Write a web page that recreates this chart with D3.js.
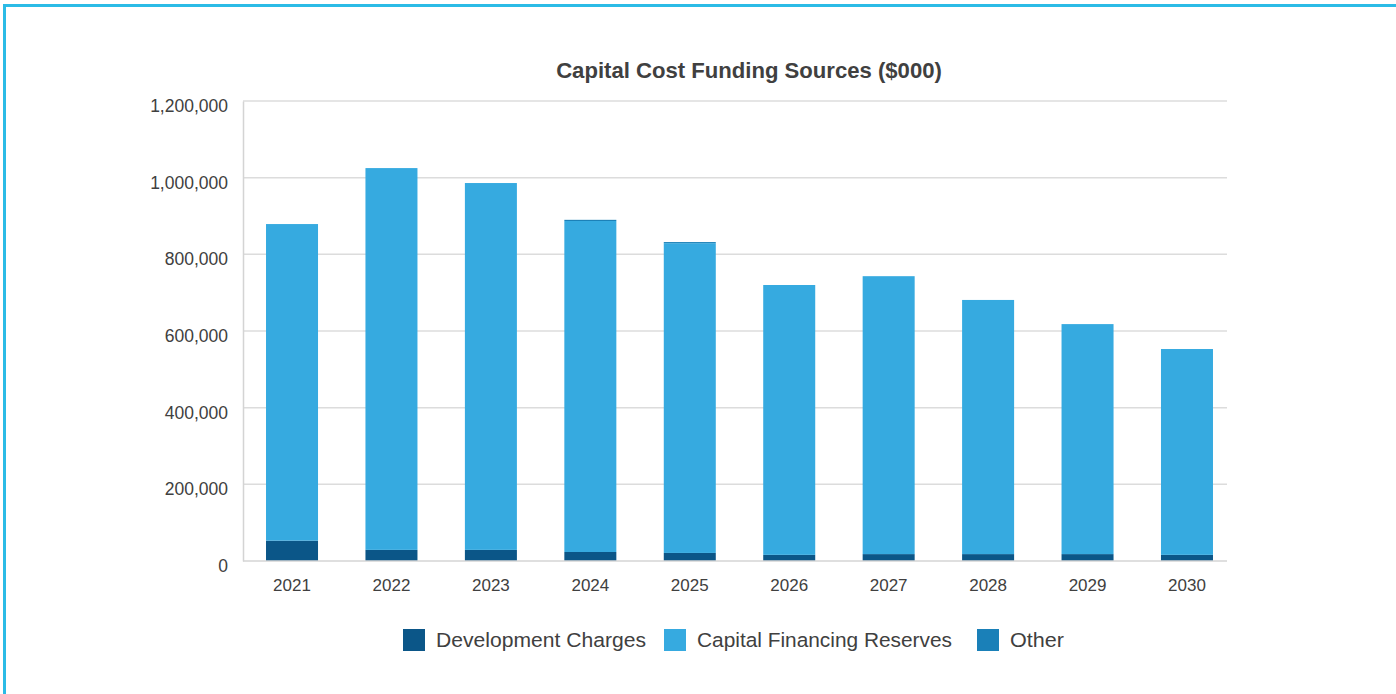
<!DOCTYPE html>
<html>
<head>
<meta charset="utf-8">
<script src="https://cdn.jsdelivr.net/npm/d3@7"></script>
<style>
  html, body { margin: 0; padding: 0; background: #fff; }
  svg { display: block; }
  text { font-family: "Liberation Sans", Arial, sans-serif; fill: #404040; }
</style>
</head>
<body>
<svg id="chart" width="1396" height="694"></svg>
<script>
// Capital cost funding sources, in thousands of dollars
const years = ["2021", "2022", "2023", "2024", "2025", "2026", "2027", "2028", "2029", "2030"];
const developmentCharges = [53000, 29000, 29000, 23500, 21000, 16000, 18000, 18000, 18000, 16000];
const capitalFinancingReserves = [826000, 996000, 957000, 863500, 808000, 704000, 725000, 663000, 600000, 537000];
const other = [0, 0, 0, 3000, 3000, 0, 0, 0, 0, 0];
const yTicks = [0, 200000, 400000, 600000, 800000, 1000000, 1200000];

const seriesNames = ["Development Charges", "Capital Financing Reserves", "Other"];
const seriesColors = ["#0b5688", "#36aae0", "#1a80b8"];

const rows = years.map((y, i) => ({
  year: y,
  "Development Charges": developmentCharges[i],
  "Capital Financing Reserves": capitalFinancingReserves[i],
  "Other": other[i]
}));

const svg = d3.select("#chart");

// Frame accent along the top and left edges
svg.append("rect").attr("x", 3).attr("y", 4).attr("width", 1396).attr("height", 3).attr("fill", "#2bbbe6");
svg.append("rect").attr("x", 3).attr("y", 4).attr("width", 3).attr("height", 694).attr("fill", "#2bbbe6");

const plot = { left: 243, right: 1227, top: 101, bottom: 561 };

const x = d3.scaleBand().domain(years).range([242.3, 1236.7]).paddingInner(0.477).paddingOuter(0.2385);
const y = d3.scaleLinear().domain([0, 1200000]).range([plot.bottom, plot.top]);

// Gridlines
svg.append("g").selectAll("line").data(yTicks.filter(t => t > 0)).join("line")
  .attr("x1", plot.left).attr("x2", plot.right)
  .attr("y1", d => y(d)).attr("y2", d => y(d))
  .attr("stroke", "#dcdcdc").attr("stroke-width", 1.5);

// Stacked bars
const stack = d3.stack().keys(seriesNames)(rows);
svg.append("g").selectAll("g").data(stack).join("g")
  .attr("fill", (d, i) => seriesColors[i])
  .selectAll("rect").data(d => d).join("rect")
  .attr("x", d => x(d.data.year))
  .attr("width", x.bandwidth())
  .attr("y", d => y(d[1]))
  .attr("height", d => y(d[0]) - y(d[1]));

// Y axis
const yAxis = d3.axisLeft(y).tickValues(yTicks).tickFormat(d3.format(",")).tickSize(0).tickPadding(15);
const yg = svg.append("g").attr("transform", `translate(${plot.left},0)`).call(yAxis);
yg.select(".domain").attr("stroke", "#d4d4d4").attr("stroke-width", 1.5);
yg.selectAll("text").attr("font-size", 17.5).attr("dy", "0.6em")
  .style("font-family", "'Liberation Sans', Arial, sans-serif").attr("fill", "#404040");

// X axis
const xAxis = d3.axisBottom(x).tickSize(0).tickPadding(18);
const xg = svg.append("g").attr("transform", `translate(0,${plot.bottom})`).call(xAxis);
xg.select(".domain").attr("stroke", "#d4d4d4").attr("stroke-width", 1.5).attr("d", `M${plot.left},0H${plot.right}`);
xg.selectAll("text").attr("font-size", 17)
  .style("font-family", "'Liberation Sans', Arial, sans-serif").attr("fill", "#404040");

// Title, sized to span its measured width
const title = svg.append("text").attr("x", 749).attr("y", 78).attr("text-anchor", "middle")
  .attr("font-size", 20).attr("font-weight", "bold").text("Capital Cost Funding Sources ($000)");
const titleWidth = title.node().getComputedTextLength();
title.attr("font-size", 20 * 386 / titleWidth);

// Legend
const legendItems = [
  { name: seriesNames[0], color: seriesColors[0], x: 403, w: 210 },
  { name: seriesNames[1], color: seriesColors[1], x: 664, w: 255 },
  { name: seriesNames[2], color: seriesColors[2], x: 977, w: 54 }
];
const lg = svg.append("g").selectAll("g").data(legendItems).join("g")
  .attr("transform", d => `translate(${d.x},629)`);
lg.append("rect").attr("width", 22).attr("height", 22).attr("fill", d => d.color);
lg.append("text").attr("x", 33).attr("y", 18).attr("font-size", 20.5)
  .attr("textLength", d => d.w).attr("lengthAdjust", "spacingAndGlyphs")
  .attr("fill", "#444")
  .text(d => d.name);
</script>
</body>
</html>
